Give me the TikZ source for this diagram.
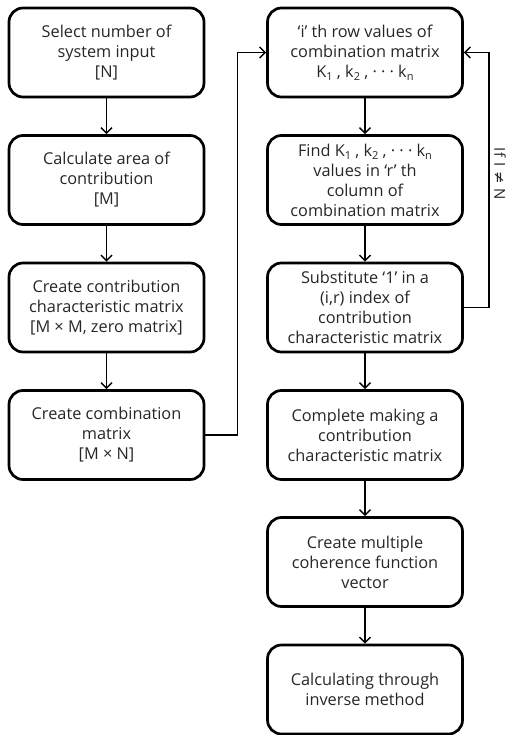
\documentclass[tikz,border=0pt]{standalone}
\usepackage{fontspec}
\setmainfont{Open Sans}
\newfontfamily\dejavu{DejaVu Sans}
\usetikzlibrary{arrows.meta}
\newcommand{\mysub}[1]{\raisebox{-0.35ex}{\fontsize{11}{11}\selectfont #1}}
\begin{document}
\begin{tikzpicture}[x=1pt,y=-1pt,
  stepbox/.style={draw=black, line width=2.7pt, rounded corners=14pt,
    minimum width=195pt, minimum height=89pt, align=center,
    text=black!85, font=\fontsize{16.3}{20}\selectfont, inner sep=2pt},
  arr/.style={line width=1.5pt, -{Straight Barb[length=5.5pt,width=11pt,line width=1.5pt]}}]
\useasboundingbox (0,0) rectangle (509,735);
\node[stepbox] (L1) at (106.5,52.5) {Select number of\\system input\\{[N]}};
\node[stepbox] (L2) at (106.5,180) {Calculate area of\\contribution\\{[M]}};
\node[stepbox] (L3) at (106.5,307.5) {Create contribution\\characteristic matrix\\{[M × M, zero matrix]}};
\node[stepbox] (L4) at (106.5,435) {Create combination\\matrix\\{[M × N]}};
\node[stepbox] (R1) at (365,52.5) {‘i’ th row values of\\combination matrix\\K\mysub{1} , k\mysub{2} , · · · k\mysub{n}};
\node[stepbox] (R2) at (365,180) {Find K\mysub{1} , k\mysub{2} , · · · k\mysub{n}\\values in ‘r’ th\\column of\\combination matrix};
\node[stepbox] (R3) at (365,307.5) {Substitute ‘1’ in a\\(i,r) index of\\contribution\\characteristic matrix};
\node[stepbox] (R4) at (365,435) {Complete making a\\contribution\\characteristic matrix};
\node[stepbox] (R5) at (365,562) {Create multiple\\coherence function\\vector};
\node[stepbox] (R6) at (365,689.5) {Calculating through\\inverse method};
\draw[arr] (L1) -- (L2);
\draw[arr] (L2) -- (L3);
\draw[arr] (L3) -- (L4);
\draw[arr] (L4.east) -- ++(32,0) coordinate (c1) |- (R1.west);
\draw[arr] (R1) -- (R2);
\draw[arr] (R2) -- (R3);
\draw[arr] (R3) -- (R4);
\draw[arr] (R4) -- (R5);
\draw[arr] (R5) -- (R6);
\draw[arr] (R3.east) -- ++(25,0) coordinate (c2) |- (R1.east);
\node[rotate=-90, font=\fontsize{15}{17}\selectfont, text=black!85] (lab) at (500,174) {If\,\,I\,\,{\dejavu ≠}\,\,N};
\end{tikzpicture}
\end{document}
